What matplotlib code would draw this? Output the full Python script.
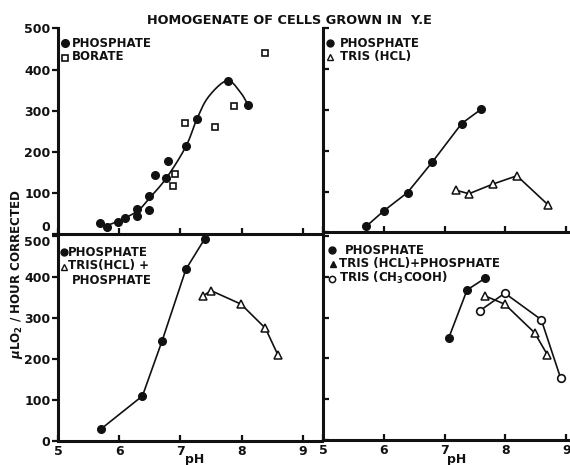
import numpy as np
import matplotlib
matplotlib.use("Agg")
import matplotlib.pyplot as plt
from matplotlib.lines import Line2D

# ---------------- data ----------------
tl_phos_ph = [5.69, 5.80, 5.98, 6.10, 6.29, 6.29, 6.49, 6.49, 6.59, 6.79, 6.77, 7.09, 7.27, 7.78, 8.11]
tl_phos_v = [27, 17, 29, 38, 61, 43, 92, 58, 143, 177, 136, 213, 280, 373, 314]
tl_bor_ph = [6.91, 6.88, 7.07, 7.57, 7.88, 8.38]
tl_bor_v = [147, 118, 270, 261, 312, 441]
tl_fit_ph = [5.70, 5.78, 5.96, 6.29, 6.48, 6.77, 7.09, 7.27, 7.46, 7.76, 7.97, 8.11]
tl_fit_v = [25, 21, 30, 55, 85, 136, 213, 280, 334, 373, 347, 313]

tr_phos_ph = [5.71, 6.00, 6.39, 6.80, 7.28, 7.60]
tr_phos_v = [15, 53, 98, 173, 267, 302]
tr_tris_ph = [7.18, 7.40, 7.80, 8.19, 8.70]
tr_tris_v = [104, 95, 119, 139, 68]

bl_phos_ph = [5.70, 6.38, 6.70, 7.09, 7.40]
bl_phos_v = [29, 110, 244, 419, 494]
bl_trisp_ph = [7.37, 7.50, 7.99, 8.39, 8.59]
bl_trisp_v = [354, 367, 334, 275, 211]

br_phos_ph = [7.07, 7.37, 7.66]
br_phos_v = [251, 368, 396]
br_trisp_ph = [7.67, 7.99, 8.48, 8.69]
br_trisp_v = [353, 333, 263, 209]
br_ac_ph = [7.58, 7.99, 8.59, 8.91]
br_ac_v = [317, 360, 295, 151]

y_ticks = [0, 100, 200, 300, 400, 500]
x_ticks = [5, 6, 7, 8, 9]

title = "HOMOGENATE OF CELLS GROWN IN  Y.E"
ylabel = "$\\mu$LO$_2$ / HOUR CORRECTED"

# ---------------- figure ----------------
W, H = 570, 465
fig = plt.figure(figsize=(W / 100, H / 100), dpi=100)
plt.rcParams['font.family'] = ['DejaVu Sans']
plt.rcParams['font.weight'] = 'bold'
K = '#111111'
SP = 2.2
LW = 1.2


def add_ax(x0, x1, ytop, ybot):
    return fig.add_axes([x0 / W, 1 - ybot / H, (x1 - x0) / W, (ybot - ytop) / H])


def style(ax, xmax, ymax, left_labels, bottom_labels, ydir):
    ax.set_xlim(5, xmax)
    ax.set_ylim(0, ymax)
    for s in ['top', 'right']:
        ax.spines[s].set_visible(False)
    for s in ['left', 'bottom']:
        ax.spines[s].set_linewidth(SP)
        ax.spines[s].set_color(K)
    ax.set_xticks(x_ticks)
    ax.set_yticks(y_ticks)
    ax.tick_params(axis='x', direction='in', length=4.5, width=1.6, colors=K,
                   labelsize=9, pad=3, labelbottom=bottom_labels)
    ax.tick_params(axis='y', direction=ydir, length=4, width=1.6, colors=K,
                   labelsize=9, pad=1.5, labelleft=left_labels)
    for lab in ax.get_xticklabels() + ax.get_yticklabels():
        lab.set_fontweight('bold')
    ax.patch.set_alpha(0)


def catmull(xs, ys, n=20):
    P = np.column_stack([xs, ys]).astype(float)
    P = np.vstack([P[0] * 2 - P[1], P, P[-1] * 2 - P[-2]])
    out = []
    for i in range(1, len(P) - 2):
        p0, p1, p2, p3 = P[i - 1], P[i], P[i + 1], P[i + 2]
        t = np.linspace(0, 1, n, endpoint=False)[:, None]
        c = 0.5 * ((2 * p1) + (-p0 + p2) * t + (2 * p0 - 5 * p1 + 4 * p2 - p3) * t ** 2
                   + (-p0 + 3 * p1 - 3 * p2 + p3) * t ** 3)
        out.append(c)
    out.append(P[-2][None, :])
    c = np.vstack(out)
    return c[:, 0], c[:, 1]


mk_fill = dict(marker='o', ms=5.5, mfc=K, mec=K, ls='none')
mk_sq = dict(marker='s', ms=4.2, mfc='white', mec=K, mew=1.2, ls='none')
mk_tri = dict(marker='^', ms=5.5, mfc='white', mec=K, mew=1.1)
mk_open = dict(marker='o', ms=5.5, mfc='white', mec=K, mew=1.2)

# top-left
ax1 = add_ax(58, 322, 28.5, 234)
style(ax1, 5 + (322 - 58) / 61.2, 500, True, False, 'out')
fx, fy = catmull(tl_fit_ph, tl_fit_v)
ax1.plot(fx, fy, color=K, lw=LW)
ax1.plot(tl_phos_ph, tl_phos_v, **mk_fill)
ax1.plot(tl_bor_ph, tl_bor_v, **mk_sq)

# top-right
ax2 = add_ax(323, 570, 28.5, 232.5)
style(ax2, 5 + (570 - 323) / 60.8, 500, False, False, 'in')
ax2.plot(tr_phos_ph, tr_phos_v, color=K, lw=LW, marker='o', ms=5.5, mfc=K, mec=K)
ax2.plot(tr_tris_ph, tr_tris_v, color=K, lw=LW, **mk_tri)

# bottom-left
ax3 = add_ax(58, 322, 232, 441)
style(ax3, 5 + (322 - 58) / 61.2, 510, True, True, 'out')
ax3.plot(bl_phos_ph, bl_phos_v, color=K, lw=LW, marker='o', ms=5.5, mfc=K, mec=K)
ax3.plot(bl_trisp_ph, bl_trisp_v, color=K, lw=LW, **mk_tri)

# nudge the shared corner labels apart like in the original
fig.canvas.draw()
ax1.get_yticklabels()[0].set_va('bottom')
ax3.get_yticklabels()[-1].set_va('top')

# bottom-right
ax4 = add_ax(323, 570, 232, 440)
style(ax4, 5 + (570 - 323) / 60.8, 510, False, True, 'in')
ax4.plot(br_phos_ph, br_phos_v, color=K, lw=LW, marker='o', ms=5.5, mfc=K, mec=K)
ax4.plot(br_trisp_ph, br_trisp_v, color=K, lw=LW, **mk_tri)
ax4.plot(br_ac_ph, br_ac_v, color=K, lw=LW, **mk_open)

# ---------------- texts ----------------
def ftxt(x, y, s, **kw):
    fig.text(x / W, 1 - y / H, s, fontsize=kw.pop('fontsize', 8.5), fontweight='bold',
             color=K, va=kw.pop('va', 'center'), ha=kw.pop('ha', 'left'), **kw)


def fmark(x, y, **kw):
    fig.add_artist(Line2D([x / W], [1 - y / H], transform=fig.transFigure, ls='none', **kw))


ftxt(289, 20, title, ha='center', fontsize=9.3)
fig.text(17 / W, 1 - 274 / H, ylabel, rotation=90, fontsize=8.6, fontweight='bold',
         color=K, ha='center', va='center')

# legends
fmark(65, 43, **{k: v for k, v in mk_fill.items() if k != 'ls'})
ftxt(72, 43, "PHOSPHATE")
fmark(65, 58, **{k: v for k, v in mk_sq.items() if k != 'ls'})
ftxt(72, 57, "BORATE")

fmark(330, 43, marker='o', ms=5, mfc=K, mec=K)
ftxt(340, 43, "PHOSPHATE")
fmark(330, 57, marker='^', ms=4.5, mfc='white', mec=K, mew=1)
ftxt(340, 56, "TRIS (HCL)")

fmark(64, 252, marker='o', ms=5, mfc=K, mec=K)
ftxt(68, 252, "PHOSPHATE")
fmark(64, 267, marker='^', ms=4.5, mfc='white', mec=K, mew=1)
ftxt(68, 266, "TRIS(HCL) +")
ftxt(72, 280, "PHOSPHATE")

fmark(332, 250, marker='o', ms=5, mfc=K, mec=K)
ftxt(345, 250, "PHOSPHATE")
fmark(333, 264, marker='^', ms=5, mfc=K, mec=K)
ftxt(339, 264, "TRIS (HCL)+PHOSPHATE")
fmark(332, 279, marker='o', ms=4.5, mfc='white', mec=K, mew=1.1)
ftxt(339, 278, "TRIS (CH$_3$COOH)")

ftxt(195, 453, "pH", ha='center', va='top', fontsize=9)
ftxt(457, 453, "pH", ha='center', va='top', fontsize=9)

fig.savefig("out.png", dpi=100, facecolor='white')
